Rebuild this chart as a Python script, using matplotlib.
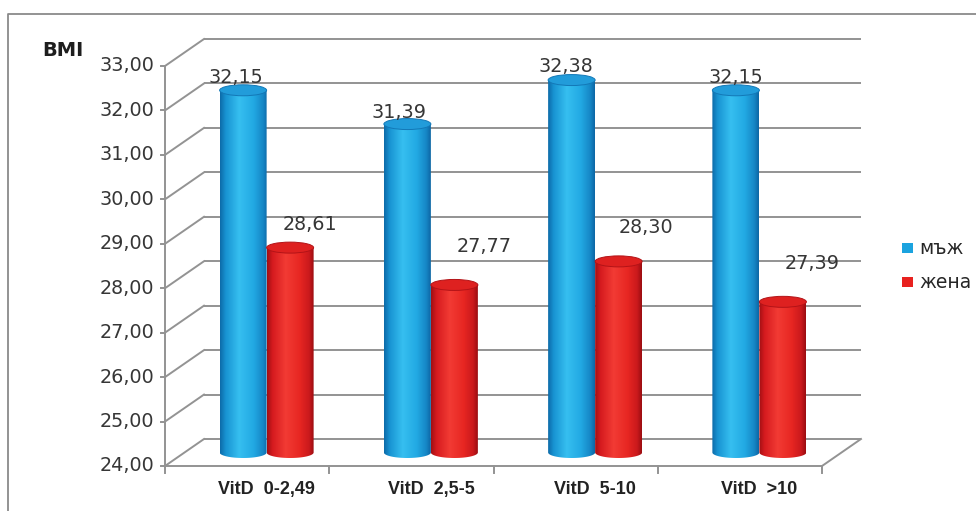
import numpy as np
import matplotlib
matplotlib.use("Agg")
import matplotlib.pyplot as plt
from matplotlib.path import Path
from matplotlib.patches import PathPatch, Ellipse, Rectangle
from matplotlib.lines import Line2D
from matplotlib.colors import LinearSegmentedColormap

# ---- data -------------------------------------------------------------
categories = ["VitD  0-2,49", "VitD  2,5-5", "VitD  5-10", "VitD  >10"]
men = [32.15, 31.39, 32.38, 32.15]
women = [28.61, 27.77, 28.30, 27.39]
series_names = ["мъж", "жена"]
y_ticks = [24, 25, 26, 27, 28, 29, 30, 31, 32, 33]
y_label = "BMI"

# value-label offsets from the cylinder top, in pixels (dx, dy)
men_label_offsets = [(-7, 13), (-8, 12), (-6, 14), (0, 13)]
women_label_offsets = [(20, 23), (30, 38), (27, 34), (29, 38)]

# ---- canvas ------------------------------------------------------------
W, H = 976, 511
fig = plt.figure(figsize=(W / 100, H / 100), dpi=100)
ax = fig.add_axes([0, 0, 1, 1])
ax.axis("off")

ymin, ymax = y_ticks[0], y_ticks[-1]
ncat = len(categories)

# pixel geometry of the front frame
FX0, FX1 = 165, 822        # left / right edge of the front frame
FY0, FY1 = 466, 66         # rows of ymin / ymax
SX = (FX1 - FX0) / ncat    # pixels per category
SY = (FY0 - FY1) / (ymax - ymin)  # pixels per BMI unit


def set_limits():
    ax.set_xlim(-FX0 / SX, (W - FX0) / SX)
    ax.set_ylim(ymin - (H - FY0) / SY, ymin + FY0 / SY)


set_limits()

# depth offset of the back wall
DX = 39 / SX
DY = 27 / SY

grid_c = "#939393"
text_c = "#363636"
lw = 1.4

# back wall gridlines and left wall diagonals
for v in y_ticks:
    ax.plot([DX, ncat + DX], [v + DY, v + DY], color=grid_c, lw=lw, zorder=1,
            solid_capstyle="butt")
    ax.plot([0, DX], [v, v + DY], color=grid_c, lw=lw, zorder=1)
# floor right edge
ax.plot([ncat, ncat + DX], [ymin, ymin + DY], color=grid_c, lw=lw, zorder=1)

# front axes
ax.plot([0, 0], [ymin - 1 / SY, ymax], color=grid_c, lw=lw, zorder=5)
ax.plot([0, ncat], [ymin, ymin], color=grid_c, lw=lw, zorder=5)
for v in y_ticks:
    ax.plot([-4 / SX, 0], [v, v], color=grid_c, lw=lw, zorder=5)
    ax.text(-11 / SX, v, f"{v:.2f}".replace(".", ","), ha="right", va="center",
            fontsize=13.8, color=text_c, family="DejaVu Sans")
for k in range(ncat + 1):
    ax.plot([k, k], [ymin, ymin - 7 / SY], color=grid_c, lw=lw, zorder=5)

# category labels
for i, cat in enumerate(categories):
    ax.text(i + 0.5 + DX / 2, ymin - 24 / SY, cat, ha="center", va="center",
            fontsize=13, fontweight="bold", color="#222222",
            family="Liberation Sans")

# ---- cylinders ---------------------------------------------------------
blue_cmap = LinearSegmentedColormap.from_list(
    "blue_cyl", [(0.0, "#0d6aa8"), (0.12, "#1893d2"), (0.4, "#36bff0"),
                 (0.7, "#22a9e3"), (0.9, "#1687c6"), (1.0, "#0d66a4")])
red_cmap = LinearSegmentedColormap.from_list(
    "red_cyl", [(0.0, "#a00f14"), (0.12, "#d61b1f"), (0.4, "#f23b34"),
                (0.7, "#e72622"), (0.9, "#ca191c"), (1.0, "#9a0d11")])
series = [
    (men, blue_cmap, "#229cda", "#1378b7", -0.5, men_label_offsets),
    (women, red_cmap, "#de2120", "#b31317", 0.5, women_label_offsets),
]

bw = 47 / SX           # cylinder width (data units)
ey = 5.5 / SY          # ellipse half-height
base = ymin + DY / 2   # cylinders stand at half depth


def cylinder(cx, top, cmap, top_color, edge_color, z):
    t = np.linspace(np.pi, 2 * np.pi, 40)
    xs = [cx - bw / 2] + list(cx + bw / 2 * np.cos(t)) + [cx + bw / 2, cx - bw / 2]
    ys = [top] + list(base + ey * np.sin(t)) + [top, top]
    verts = list(zip(xs, ys))
    codes = [Path.MOVETO] + [Path.LINETO] * (len(verts) - 2) + [Path.CLOSEPOLY]
    body = PathPatch(Path(verts, codes), facecolor="none", edgecolor="none",
                     transform=ax.transData, zorder=z)
    ax.add_patch(body)
    grad = np.linspace(0, 1, 256).reshape(1, -1)
    im = ax.imshow(grad, cmap=cmap, extent=(cx - bw / 2, cx + bw / 2, base - ey, top),
                   aspect="auto", interpolation="bilinear", zorder=z)
    im.set_clip_path(body)
    ax.add_patch(Ellipse((cx, top), bw, 2 * ey, facecolor=top_color,
                         edgecolor=edge_color, lw=0.7, zorder=z + 0.1))


for i in range(ncat):
    for k, (vals, cmap, tcol, ecol, shift, offsets) in enumerate(series):
        cx = i + 0.5 + DX / 2 + shift * bw
        top = vals[i] + DY / 2
        cylinder(cx, top, cmap, tcol, ecol, 3 + k * 0.2)
        ox, oy = offsets[i]
        ax.text(cx + ox / SX, top + oy / SY, f"{vals[i]:.2f}".replace(".", ","),
                ha="center", va="center", fontsize=13.8, color=text_c,
                family="DejaVu Sans", zorder=6)

set_limits()

# ---- legend ------------------------------------------------------------
leg_colors = ["#1ba3df", "#e8211f"]
for j, (name, col) in enumerate(zip(series_names, leg_colors)):
    yc = 248 + j * 34
    fig.add_artist(Rectangle((902 / W, 1 - (yc + 5) / H), 11 / W, 10 / H,
                             facecolor=col, edgecolor="none",
                             transform=fig.transFigure))
    fig.text(919 / W, 1 - yc / H, name, ha="left", va="center",
             fontsize=13.5, color="#262626", family="DejaVu Sans")

# axis title and outer frame
fig.text(42 / W, 1 - 50 / H, y_label, ha="left", va="center", fontsize=14,
         fontweight="bold", color="#1e1e1e", family="DejaVu Sans")
fig.add_artist(Line2D([8 / W, 8 / W, 1], [0, 1 - 14.5 / H, 1 - 14.5 / H],
                      color="#8a8a8a", lw=1.3, transform=fig.transFigure))

fig.savefig("out.png", dpi=100)
